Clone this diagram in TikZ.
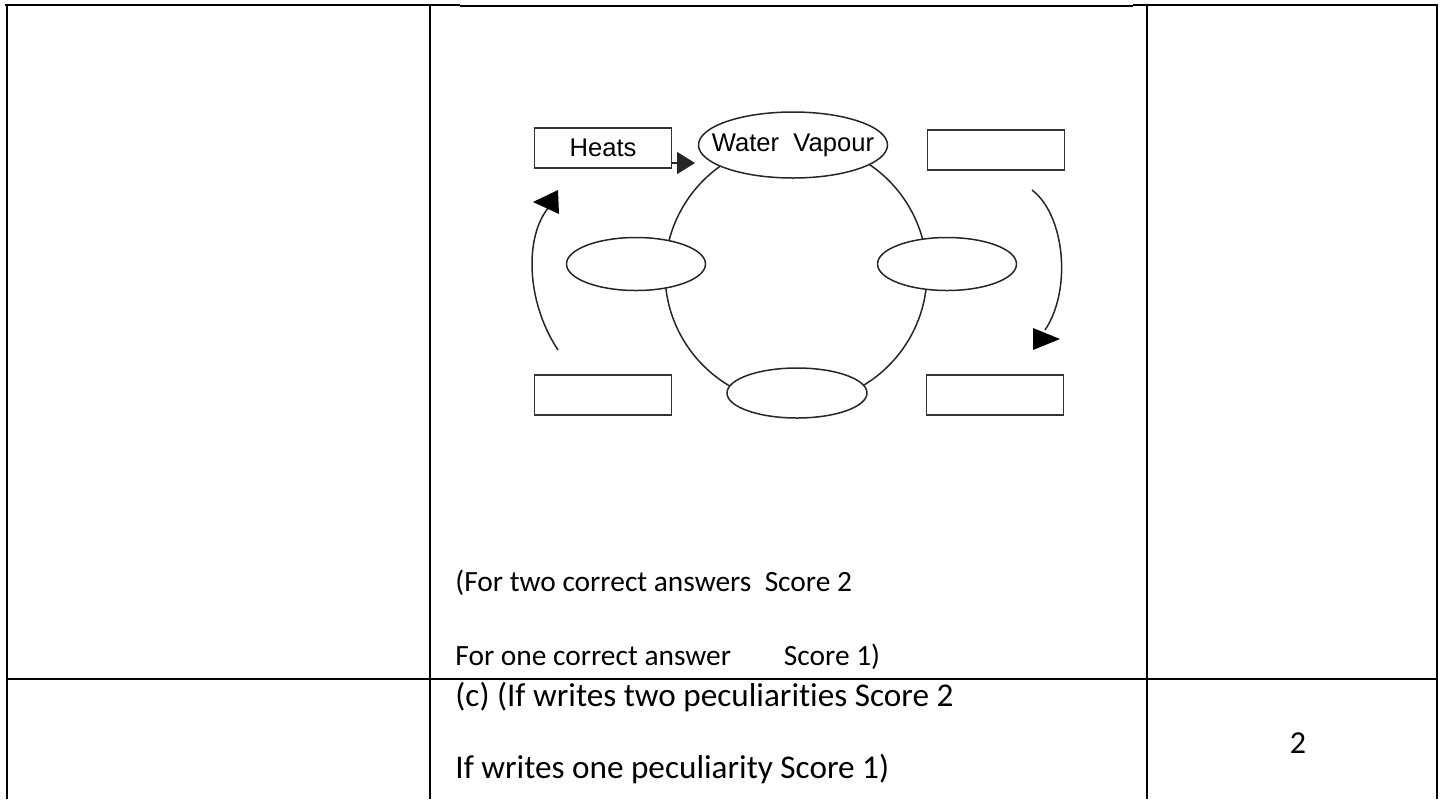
\documentclass[tikz,border=0pt]{standalone}
\usepackage{fontspec}
\setmainfont{Carlito}[Ligatures={NoCommon}]
\newfontfamily\diagfont{Liberation Sans}
\usetikzlibrary{shapes.geometric,arrows.meta}

\tikzset{
  tablerule/.style={line width=1.4pt},
  thinrule/.style={line width=0.6pt},
  blankbox/.style={draw=black!80, line width=0.8pt, minimum width=68.5pt,
    minimum height=20pt, inner sep=0pt, font=\diagfont\fontsize{12.8}{15}\selectfont},
  bubble/.style={ellipse, draw=black!85, line width=0.75pt, fill=white, inner sep=0pt},
  cycleline/.style={draw=black!85, line width=0.75pt},
  answertext/.style={anchor=base west, inner sep=0pt, font=\fontsize{16.6}{19}\selectfont},
  celltext/.style={anchor=base west, inner sep=0pt, font=\fontsize{14.7}{17}\selectfont},
}

\begin{document}
\begin{tikzpicture}[x=0.5pt,y=-0.5pt]
\useasboundingbox (0,0) rectangle (1445,799);

%% table rules
\draw[tablerule] (5,5) -- (460,5);
\draw[thinrule] (460,6) -- (1133,6);
\draw[tablerule] (1133,5) -- (1437,5);
\draw[tablerule] (7,4) -- (7,799);
\draw[tablerule] (430,4) -- (430,799);
\draw[tablerule] (1147,4) -- (1147,799);
\draw[tablerule] (1437,4) -- (1437,799);
\draw[tablerule] (6,679) -- (1438,679);

%% water cycle
\node[circle, cycleline, minimum size=131pt, inner sep=0pt] (cycle) at (796,273) {};

\node[bubble, minimum width=94.5pt, minimum height=33pt,
  label={[font=\diagfont\fontsize{12.8}{15}\selectfont]center:Water\ \ Vapour}] (vapour) at (793,145) {};
\node[bubble, minimum width=69.5pt, minimum height=26.5pt] (leftstage) at (636,264) {};
\node[bubble, minimum width=69.5pt, minimum height=26.5pt] (rightstage) at (947,264) {};
\node[bubble, minimum width=70pt, minimum height=25pt] (bottomstage) at (797,393) {};

%% boxes
\node[blankbox] (heats) at (603,148) {Heats};
\node[blankbox] (topright) at (996,150) {};
\node[blankbox] (bottomleft) at (603,395) {};
\node[blankbox] (bottomright) at (995,395) {};

%% arrows
\coordinate (heatstip) at (695,163);
\draw[cycleline, -{Triangle[length=9pt, width=11pt]}] (heats.east |- heatstip) -- (heatstip);

\coordinate (leftfoot) at (558,350);
\coordinate (lefthead) at (549,207);
\draw[cycleline] (leftfoot) .. controls (525,300) and (525,235) .. (lefthead);
\fill (533,202) -- (558,190) -- (559,214) -- cycle;

\coordinate (righttop) at (1032,190);
\coordinate (righthead) at (1045,330);
\draw[cycleline] (righttop) .. controls (1065,215) and (1072,290) .. (righthead);
\fill (1033,328) -- (1060,339) -- (1033,350) -- cycle;

%% answer key text
\node[celltext] (twoans) at (455,591) {(For two correct answers\ \ Score 2};
\node[celltext] (oneans) at (455,665) {For one correct answer\hspace{1.8em}Score 1)};
\node[answertext] (twopec) at (455,706) {(c) (If writes two peculiarities Score 2};
\node[answertext] (onepec) at (455,778) {If writes one peculiarity Score 1)};
\node[inner sep=0pt, font=\fontsize{16}{19}\selectfont] (mark) at (1298,743) {2};

\end{tikzpicture}
\end{document}
